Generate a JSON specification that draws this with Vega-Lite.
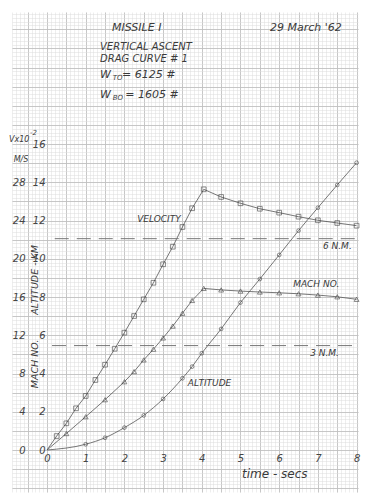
{
  "$schema": "https://vega.github.io/schema/vega-lite/v6.json",
  "width": 346,
  "height": 480,
  "autosize": "none",
  "padding": {"left": 12, "top": 12, "right": 14, "bottom": 8},
  "background": "white",
  "config": {
    "view": {"stroke": null},
    "axis": {"labelFont": "DejaVu Sans", "labelFontStyle": "italic", "labelColor": "#444", "labelFontSize": 10, "labelFlush": false, "labelOverlap": false, "labelBound": false, "title": null},
    "text": {"font": "DejaVu Sans", "fontStyle": "italic", "color": "#3a3a3a"}
  },
  "datasets": {
    "traj": [
      {"series": "Velocity", "t": 0, "value": 0, "pt": false},
      {"series": "Velocity", "t": 0.25, "value": 1.46, "pt": true},
      {"series": "Velocity", "t": 0.5, "value": 2.79, "pt": true},
      {"series": "Velocity", "t": 0.75, "value": 4.36, "pt": true},
      {"series": "Velocity", "t": 1.0, "value": 5.65, "pt": true},
      {"series": "Velocity", "t": 1.25, "value": 7.32, "pt": true},
      {"series": "Velocity", "t": 1.5, "value": 8.92, "pt": true},
      {"series": "Velocity", "t": 1.75, "value": 10.59, "pt": true},
      {"series": "Velocity", "t": 2.0, "value": 12.27, "pt": true},
      {"series": "Velocity", "t": 2.25, "value": 14.01, "pt": true},
      {"series": "Velocity", "t": 2.5, "value": 15.76, "pt": true},
      {"series": "Velocity", "t": 2.75, "value": 17.49, "pt": true},
      {"series": "Velocity", "t": 3.0, "value": 19.42, "pt": true},
      {"series": "Velocity", "t": 3.25, "value": 21.26, "pt": true},
      {"series": "Velocity", "t": 3.5, "value": 23.32, "pt": true},
      {"series": "Velocity", "t": 3.75, "value": 25.28, "pt": true},
      {"series": "Velocity", "t": 4.05, "value": 27.26, "pt": true},
      {"series": "Velocity", "t": 4.5, "value": 26.46, "pt": true},
      {"series": "Velocity", "t": 5.0, "value": 25.8, "pt": true},
      {"series": "Velocity", "t": 5.5, "value": 25.23, "pt": true},
      {"series": "Velocity", "t": 6.0, "value": 24.82, "pt": true},
      {"series": "Velocity", "t": 6.5, "value": 24.4, "pt": true},
      {"series": "Velocity", "t": 7.0, "value": 24.02, "pt": true},
      {"series": "Velocity", "t": 7.5, "value": 23.74, "pt": true},
      {"series": "Velocity", "t": 8.0, "value": 23.46, "pt": true},
      {"series": "Mach", "t": 0, "value": 0, "pt": false},
      {"series": "Mach", "t": 0.5, "value": 0.86, "pt": true},
      {"series": "Mach", "t": 1.0, "value": 1.74, "pt": true},
      {"series": "Mach", "t": 1.5, "value": 2.63, "pt": true},
      {"series": "Mach", "t": 2.0, "value": 3.57, "pt": true},
      {"series": "Mach", "t": 2.25, "value": 4.1, "pt": true},
      {"series": "Mach", "t": 2.5, "value": 4.71, "pt": true},
      {"series": "Mach", "t": 2.75, "value": 5.27, "pt": true},
      {"series": "Mach", "t": 3.0, "value": 5.86, "pt": true},
      {"series": "Mach", "t": 3.25, "value": 6.48, "pt": true},
      {"series": "Mach", "t": 3.5, "value": 7.15, "pt": true},
      {"series": "Mach", "t": 3.75, "value": 7.82, "pt": true},
      {"series": "Mach", "t": 4.05, "value": 8.45, "pt": true},
      {"series": "Mach", "t": 4.5, "value": 8.37, "pt": true},
      {"series": "Mach", "t": 5.0, "value": 8.31, "pt": true},
      {"series": "Mach", "t": 5.5, "value": 8.26, "pt": true},
      {"series": "Mach", "t": 6.0, "value": 8.22, "pt": true},
      {"series": "Mach", "t": 6.5, "value": 8.17, "pt": true},
      {"series": "Mach", "t": 7.0, "value": 8.1, "pt": true},
      {"series": "Mach", "t": 7.5, "value": 8.01, "pt": true},
      {"series": "Mach", "t": 8.0, "value": 7.88, "pt": true},
      {"series": "Altitude", "t": 0, "value": 0, "pt": false},
      {"series": "Altitude", "t": 1.0, "value": 0.3, "pt": true},
      {"series": "Altitude", "t": 1.5, "value": 0.64, "pt": true},
      {"series": "Altitude", "t": 2.0, "value": 1.17, "pt": true},
      {"series": "Altitude", "t": 2.5, "value": 1.81, "pt": true},
      {"series": "Altitude", "t": 3.0, "value": 2.67, "pt": true},
      {"series": "Altitude", "t": 3.5, "value": 3.75, "pt": true},
      {"series": "Altitude", "t": 3.75, "value": 4.36, "pt": true},
      {"series": "Altitude", "t": 4.0, "value": 5.06, "pt": true},
      {"series": "Altitude", "t": 4.5, "value": 6.33, "pt": true},
      {"series": "Altitude", "t": 5.0, "value": 7.71, "pt": true},
      {"series": "Altitude", "t": 5.5, "value": 8.94, "pt": true},
      {"series": "Altitude", "t": 6.0, "value": 10.2, "pt": true},
      {"series": "Altitude", "t": 6.5, "value": 11.47, "pt": true},
      {"series": "Altitude", "t": 7.0, "value": 12.67, "pt": true},
      {"series": "Altitude", "t": 7.5, "value": 13.86, "pt": true},
      {"series": "Altitude", "t": 8.0, "value": 15.02, "pt": true}
    ],
    "levels": [
      {"label": "6 N.M.", "alt": 11.05, "from": 0.2, "to": 8.0},
      {"label": "3 N.M.", "alt": 5.46, "from": 0.13, "to": 8.0}
    ],
    "notes": [
      {"text": "MISSILE I", "t": 1.68, "y": 22.07, "kind": "big"},
      {"text": "29 March '62", "t": 5.76, "y": 22.07, "kind": "big"},
      {"text": "VERTICAL ASCENT", "t": 1.37, "y": 21.07, "kind": "head"},
      {"text": "DRAG CURVE # 1", "t": 1.37, "y": 20.42, "kind": "head"},
      {"text": "W", "t": 1.37, "y": 19.61, "kind": "big"},
      {"text": "= 6125 #", "t": 1.94, "y": 19.61, "kind": "big"},
      {"text": "W", "t": 1.37, "y": 18.56, "kind": "big"},
      {"text": "= 1605 #", "t": 2.02, "y": 18.56, "kind": "big"},
      {"text": "TO", "t": 1.7, "y": 19.45, "kind": "sub"},
      {"text": "BO", "t": 1.7, "y": 18.4, "kind": "sub"},
      {"text": "-2", "t": -0.44, "y": 16.55, "kind": "sub"},
      {"text": "VELOCITY", "t": 2.33, "y": 12.08, "kind": "label"},
      {"text": "MACH NO.", "t": 6.36, "y": 8.68, "kind": "label"},
      {"text": "ALTITUDE", "t": 3.64, "y": 3.5, "kind": "label"},
      {"text": "6 N.M.", "t": 7.13, "y": 10.67, "kind": "label"},
      {"text": "3 N.M.", "t": 6.8, "y": 5.07, "kind": "label"},
      {"text": "time - secs", "t": 5.04, "y": -1.25, "kind": "time"},
      {"text": "Vx10", "t": -0.98, "y": 16.2, "kind": "unit"},
      {"text": "M/S", "t": -0.86, "y": 15.16, "kind": "unit"},
      {"text": "ALTITUDE - KM", "t": -0.3, "y": 8.9, "kind": "title"},
      {"text": "MACH NO.", "t": -0.3, "y": 4.5, "kind": "title"}
    ]
  },
  "resolve": {"scale": {"y": "independent"}, "axis": {"x": "independent", "y": "independent"}},
  "layer": [
    {
      "data": {"name": "traj"},
      "transform": [{"filter": "datum.series === 'Altitude'"}],
      "mark": {"type": "line", "interpolate": "monotone", "color": "#555", "strokeWidth": 0.8},
      "encoding": {
        "x": {"field": "t", "type": "quantitative", "scale": {"domain": [-0.9044, 8.0362], "nice": false, "zero": false},
              "axis": {"grid": true, "tickCount": 89, "gridColor": "#dcdcdc", "gridWidth": 0.5, "domain": false, "ticks": false, "labels": false}},
        "y": {"field": "value", "type": "quantitative", "scale": {"domain": [-2.196, 22.902], "nice": false, "zero": false},
              "axis": {"grid": true, "tickCount": 125, "gridColor": "#dcdcdc", "gridWidth": 0.5, "domain": false, "ticks": false, "labels": false}}
      }
    },
    {
      "data": {"name": "traj"},
      "transform": [{"filter": "datum.series === 'Mach'"}],
      "mark": {"type": "line", "color": "#555", "strokeWidth": 0.8},
      "encoding": {
        "x": {"field": "t", "type": "quantitative", "scale": {"domain": [-0.9044, 8.0362], "nice": false, "zero": false},
              "axis": {"grid": true, "tickCount": 18, "gridColor": "#bcbcbc", "gridWidth": 0.8, "domain": false, "ticks": false, "labels": false}},
        "y": {"field": "value", "type": "quantitative", "scale": {"domain": [-2.196, 22.902], "nice": false, "zero": false},
              "axis": {"grid": true, "tickCount": 25, "gridColor": "#bcbcbc", "gridWidth": 0.8, "domain": false, "ticks": false, "labels": false}}
      }
    },
    {
      "data": {"name": "traj"},
      "transform": [{"filter": "datum.series === 'Velocity'"}],
      "mark": {"type": "line", "color": "#555", "strokeWidth": 0.8},
      "encoding": {
        "x": {"field": "t", "type": "quantitative", "scale": {"domain": [-0.9044, 8.0362], "nice": false, "zero": false}, "axis": null},
        "y": {"field": "value", "type": "quantitative", "scale": {"domain": [-4.392, 45.804], "nice": false, "zero": false},
              "axis": {"orient": "left", "offset": -35, "values": [0, 4, 8, 12, 16, 20, 24, 28], "grid": false, "domain": false, "ticks": false, "labelPadding": 22}}
      }
    },
    {
      "data": {"name": "traj"},
      "transform": [{"filter": "datum.series === 'Altitude' && datum.pt"}],
      "mark": {"type": "point", "shape": "circle", "filled": false, "size": 14, "stroke": "#333", "strokeWidth": 0.8},
      "encoding": {
        "x": {"field": "t", "type": "quantitative", "scale": {"domain": [-0.9044, 8.0362], "nice": false, "zero": false},
              "axis": {"orient": "bottom", "offset": -42, "values": [0, 1, 2, 3, 4, 5, 6, 7, 8], "grid": false, "domain": false, "ticks": false, "labelPadding": 3}},
        "y": {"field": "value", "type": "quantitative", "scale": {"domain": [-2.196, 22.902], "nice": false, "zero": false},
              "axis": {"orient": "left", "offset": -35, "values": [0, 2, 4, 6, 8, 10, 12, 14, 16], "grid": false, "domain": false, "ticks": false, "labelPadding": 2}}
      }
    },
    {
      "data": {"name": "traj"},
      "transform": [{"filter": "datum.series === 'Mach' && datum.pt"}],
      "mark": {"type": "point", "shape": "triangle-up", "filled": false, "size": 24, "stroke": "#333", "strokeWidth": 0.8},
      "encoding": {
        "x": {"field": "t", "type": "quantitative", "scale": {"domain": [-0.9044, 8.0362], "nice": false, "zero": false}, "axis": null},
        "y": {"field": "value", "type": "quantitative", "scale": {"domain": [-2.196, 22.902], "nice": false, "zero": false}, "axis": null}
      }
    },
    {
      "data": {"name": "traj"},
      "transform": [{"filter": "datum.series === 'Velocity' && datum.pt"}],
      "mark": {"type": "point", "shape": "square", "filled": false, "size": 22, "stroke": "#333", "strokeWidth": 0.8},
      "encoding": {
        "x": {"field": "t", "type": "quantitative", "scale": {"domain": [-0.9044, 8.0362], "nice": false, "zero": false}, "axis": null},
        "y": {"field": "value", "type": "quantitative", "scale": {"domain": [-4.392, 45.804], "nice": false, "zero": false}, "axis": null}
      }
    },
    {
      "data": {"name": "levels"},
      "mark": {"type": "rule", "color": "#777", "strokeWidth": 1, "strokeDash": [14, 8]},
      "encoding": {
        "x": {"field": "from", "type": "quantitative", "scale": {"domain": [-0.9044, 8.0362], "nice": false, "zero": false}, "axis": null},
        "x2": {"field": "to"},
        "y": {"field": "alt", "type": "quantitative", "scale": {"domain": [-2.196, 22.902], "nice": false, "zero": false}, "axis": null}
      }
    },
    {
      "mark": {"type": "rule", "color": "#444", "strokeWidth": 1.2},
      "encoding": {
        "x": {"datum": 0, "type": "quantitative", "scale": {"domain": [-0.9044, 8.0362], "nice": false, "zero": false}, "axis": null},
        "x2": {"datum": 8},
        "y": {"datum": 0, "type": "quantitative", "scale": {"domain": [-2.196, 22.902], "nice": false, "zero": false}, "axis": null}
      }
    },
    {
      "mark": {"type": "rule", "color": "#444", "strokeWidth": 1.2},
      "encoding": {
        "x": {"datum": 0, "type": "quantitative", "scale": {"domain": [-0.9044, 8.0362], "nice": false, "zero": false}, "axis": null},
        "y": {"datum": 0, "type": "quantitative", "scale": {"domain": [-2.196, 22.902], "nice": false, "zero": false}, "axis": null},
        "y2": {"datum": 16.6}
      }
    },
    {
      "data": {"name": "notes"},
      "transform": [{"filter": "datum.kind === 'big'"}],
      "mark": {"type": "text", "align": "left", "baseline": "middle", "fontSize": 11},
      "encoding": {
        "x": {"field": "t", "type": "quantitative", "scale": {"domain": [-0.9044, 8.0362], "nice": false, "zero": false}, "axis": null},
        "y": {"field": "y", "type": "quantitative", "scale": {"domain": [-2.196, 22.902], "nice": false, "zero": false}, "axis": null},
        "text": {"field": "text"}
      }
    },
    {
      "data": {"name": "notes"},
      "transform": [{"filter": "datum.kind === 'head'"}],
      "mark": {"type": "text", "align": "left", "baseline": "middle", "fontSize": 10},
      "encoding": {
        "x": {"field": "t", "type": "quantitative", "scale": {"domain": [-0.9044, 8.0362], "nice": false, "zero": false}, "axis": null},
        "y": {"field": "y", "type": "quantitative", "scale": {"domain": [-2.196, 22.902], "nice": false, "zero": false}, "axis": null},
        "text": {"field": "text"}
      }
    },
    {
      "data": {"name": "notes"},
      "transform": [{"filter": "datum.kind === 'sub'"}],
      "mark": {"type": "text", "align": "left", "baseline": "middle", "fontSize": 7},
      "encoding": {
        "x": {"field": "t", "type": "quantitative", "scale": {"domain": [-0.9044, 8.0362], "nice": false, "zero": false}, "axis": null},
        "y": {"field": "y", "type": "quantitative", "scale": {"domain": [-2.196, 22.902], "nice": false, "zero": false}, "axis": null},
        "text": {"field": "text"}
      }
    },
    {
      "data": {"name": "notes"},
      "transform": [{"filter": "datum.kind === 'label'"}],
      "mark": {"type": "text", "align": "left", "baseline": "middle", "fontSize": 9},
      "encoding": {
        "x": {"field": "t", "type": "quantitative", "scale": {"domain": [-0.9044, 8.0362], "nice": false, "zero": false}, "axis": null},
        "y": {"field": "y", "type": "quantitative", "scale": {"domain": [-2.196, 22.902], "nice": false, "zero": false}, "axis": null},
        "text": {"field": "text"}
      }
    },
    {
      "data": {"name": "notes"},
      "transform": [{"filter": "datum.kind === 'unit'"}],
      "mark": {"type": "text", "align": "left", "baseline": "middle", "fontSize": 8},
      "encoding": {
        "x": {"field": "t", "type": "quantitative", "scale": {"domain": [-0.9044, 8.0362], "nice": false, "zero": false}, "axis": null},
        "y": {"field": "y", "type": "quantitative", "scale": {"domain": [-2.196, 22.902], "nice": false, "zero": false}, "axis": null},
        "text": {"field": "text"}
      }
    },
    {
      "data": {"name": "notes"},
      "transform": [{"filter": "datum.kind === 'time'"}],
      "mark": {"type": "text", "align": "left", "baseline": "middle", "fontSize": 12},
      "encoding": {
        "x": {"field": "t", "type": "quantitative", "scale": {"domain": [-0.9044, 8.0362], "nice": false, "zero": false}, "axis": null},
        "y": {"field": "y", "type": "quantitative", "scale": {"domain": [-2.196, 22.902], "nice": false, "zero": false}, "axis": null},
        "text": {"field": "text"}
      }
    },
    {
      "data": {"name": "notes"},
      "transform": [{"filter": "datum.kind === 'title'"}],
      "mark": {"type": "text", "align": "center", "baseline": "middle", "fontSize": 9.5, "angle": 270},
      "encoding": {
        "x": {"field": "t", "type": "quantitative", "scale": {"domain": [-0.9044, 8.0362], "nice": false, "zero": false}, "axis": null},
        "y": {"field": "y", "type": "quantitative", "scale": {"domain": [-2.196, 22.902], "nice": false, "zero": false}, "axis": null},
        "text": {"field": "text"}
      }
    }
  ]
}
